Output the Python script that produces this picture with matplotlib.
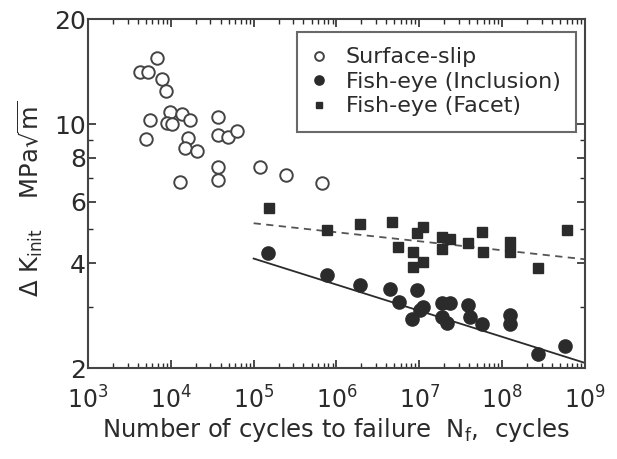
import numpy as np
import matplotlib
matplotlib.use("Agg")
import matplotlib.pyplot as plt

plt.rcParams['font.family'] = ['DejaVu Sans']
plt.rcParams['mathtext.fontset'] = 'dejavusans'

# Surface-slip (open circles)
slip_n = [4250, 5300, 6810, 7830, 8750, 5610, 5010, 9770, 8990, 10330, 13640, 17050,
          16140, 14830, 20700, 12910, 37150, 37150, 49100, 63100, 37150, 37150,
          119400, 246000, 670000]
slip_k = [14.1, 14.1, 15.5, 13.5, 12.4, 10.3, 9.06, 10.8, 10.1, 10.0, 10.7, 10.3,
          9.12, 8.54, 8.37, 6.82, 10.5, 9.3, 9.18, 9.55, 7.53, 6.91,
          7.53, 7.14, 6.78]

# Fish-eye (Inclusion) (filled circles)
incl_n = [1.494e5, 7.69e5, 1.93e6, 4.44e6, 5.7e6, 9.4e6, 1.11e7, 8.19e6, 1.02e7,
          1.88e7, 2.35e7, 1.88e7, 2.17e7, 3.88e7, 4.1e7, 5.73e7, 1.25e8, 1.25e8,
          2.72e8, 5.77e8]
incl_k = [4.27, 3.69, 3.46, 3.37, 3.09, 3.35, 2.99, 2.76, 2.93,
          3.07, 3.07, 2.80, 2.69, 3.03, 2.80, 2.68, 2.84, 2.68,
          2.19, 2.31]

# Fish-eye (Facet) (filled squares)
facet_n = [1.536e5, 7.69e5, 1.93e6, 4.69e6, 5.54e6, 9.4e6, 1.11e7, 8.41e6, 8.41e6,
           1.11e7, 1.88e7, 2.35e7, 1.88e7, 3.88e7, 5.73e7, 5.9e7, 1.25e8, 1.25e8,
           2.72e8, 6.1e8]
facet_k = [5.75, 4.97, 5.17, 5.24, 4.44, 4.87, 5.07, 4.30, 3.89,
           4.03, 4.75, 4.69, 4.39, 4.56, 4.90, 4.30, 4.59, 4.30,
           3.87, 4.97]

# fitted lines (end points)
incl_fit_n = [1e5, 1e9]
incl_fit_k = [4.12, 2.07]
facet_fit_n = [1e5, 1e9]
facet_fit_k = [5.2, 4.1]

ink = '#2b2b2b'

fig = plt.figure(figsize=(6.17, 4.59), dpi=100)
ax = fig.add_axes([0.1426, 0.198, 0.8054, 0.7606])

ax.plot(incl_fit_n, incl_fit_k, '-', color=ink, lw=1.3)
ax.plot(facet_fit_n, facet_fit_k, '--', color='#555555', lw=1.3, dashes=(4, 3))

ax.plot(slip_n, slip_k, 'o', ms=9, mfc='white', mec='#444444', mew=1.4,
        ls='none', label='Surface-slip')
ax.plot(incl_n, incl_k, 'o', ms=9.5, mfc=ink, mec=ink, ls='none',
        label='Fish-eye (Inclusion)')
ax.plot(facet_n, facet_k, 's', ms=6.5, mfc=ink, mec=ink, ls='none',
        label='Fish-eye (Facet)')

ax.set_xscale('log')
ax.set_yscale('log')
ax.set_xlim(1e3, 1e9)
ax.set_ylim(2, 20)

ax.set_xticks([1e3, 1e4, 1e5, 1e6, 1e7, 1e8, 1e9])
ax.set_yticks([2, 4, 6, 8, 10, 20])
ax.set_yticklabels(['2', '4', '6', '8', '10', '20'])
ax.set_yticks([3, 5, 7, 9], minor=True)
ax.yaxis.set_minor_formatter(matplotlib.ticker.NullFormatter())

ax.tick_params(which='both', direction='in', top=True, right=True, colors=ink)
ax.tick_params(which='major', length=6, width=1.2)
ax.tick_params(which='minor', length=3.5, width=1.0)
ax.tick_params(axis='x', labelsize=17, pad=13)
ax.tick_params(axis='y', labelsize=18, pad=1.5)
for s in ax.spines.values():
    s.set_color('#444444')
    s.set_linewidth(1.5)

ax.set_xlabel(r'Number of cycles to failure  N$_{\rm f}$,  cycles', fontsize=17.5,
              color=ink)
ax.xaxis.set_label_coords(0.499, -0.137)
ax.set_ylabel(r'$\Delta$ K$_{\rm init}$    MPa$\sqrt{\rm m}$', fontsize=17.5,
              color=ink)
ax.yaxis.set_label_coords(-0.086, 0.485)

leg = ax.legend(loc='upper right', bbox_to_anchor=(0.982, 0.963), borderaxespad=0,
                fontsize=16, frameon=True, fancybox=False, labelspacing=0.2,
                handlelength=0.6, handletextpad=0.9, borderpad=0.7, markerscale=0.7)
leg.get_frame().set_edgecolor('#444444')
leg.get_frame().set_linewidth(1.5)
for t in leg.get_texts():
    t.set_color(ink)

fig.savefig('out.png', dpi=100)
